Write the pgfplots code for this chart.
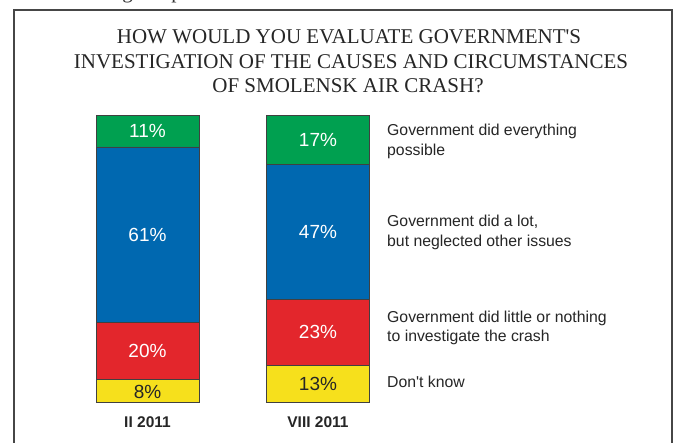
\documentclass[border=0pt]{standalone}
\usepackage{pgfplots}
\pgfplotsset{compat=1.18}
\usepackage{fontspec}
\setmainfont{Liberation Serif}
\newfontfamily\arial{Liberation Sans}
\definecolor{cgreen}{RGB}{0,160,80}
\definecolor{cblue}{RGB}{0,104,176}
\definecolor{cred}{RGB}{227,38,44}
\definecolor{cyellow}{RGB}{246,224,28}
\definecolor{cframe}{RGB}{70,70,70}
\tikzset{pct/.style={inner sep=0pt, font=\arial\fontsize{19bp}{19bp}\selectfont, text=white}}
\begin{document}
\begin{tikzpicture}
\useasboundingbox (0,0) rectangle (677bp,443bp);
\clip (0,0) rectangle (677bp,443bp);
\fill[white] (0,0) rectangle (677bp,443bp);
\draw[cframe, line width=2bp] (14bp,-20bp) -- (14bp,433bp) -- (672bp,433bp) -- (672bp,-20bp);
% cropped line above the frame
\node[anchor=base, inner sep=0pt, font=\fontsize{21bp}{21bp}\selectfont, text=black!80] at (127.5bp,444bp) {g};
\node[anchor=base, inner sep=0pt, font=\fontsize{21bp}{21bp}\selectfont, text=black!80] at (176.5bp,444bp) {p};
% title
\begin{scope}[every node/.style={anchor=base, inner sep=0pt, font=\fontsize{21bp}{24.5bp}\selectfont, text=black!85}]
\node at (349bp,399bp) {HOW WOULD YOU EVALUATE GOVERNMENT\textquotesingle S};
\node at (351bp,374.5bp) {INVESTIGATION OF THE CAUSES AND CIRCUMSTANCES};
\node at (348bp,350bp) {OF SMOLENSK AIR CRASH?};
\end{scope}
\begin{axis}[
  at={(62.25bp,40.3bp)}, anchor=south west,
  scale only axis, width=341bp, height=287.4bp,
  xmin=-0.5, xmax=1.5, ymin=0, ymax=100,
  hide axis, clip=false,
  ybar stacked, bar width=103bp,
]
\addplot[fill=cyellow, draw=black!75, line width=0.8bp] coordinates {(0,8) (1,13)};
\addplot[fill=cred, draw=black!75, line width=0.8bp] coordinates {(0,20) (1,23)};
\addplot[fill=cblue, draw=black!75, line width=0.8bp] coordinates {(0,61) (1,47)};
\addplot[fill=cgreen, draw=black!75, line width=0.8bp] coordinates {(0,11) (1,17)};
\end{axis}
% segment labels (centres of the segments: 40.3bp + value * 2.874bp)
\node[pct, text=black!85] at (147.5bp,51.2bp) {8\%};
\node[pct] at (147.5bp,92.0bp) {20\%};
\node[pct] at (147.5bp,208.4bp) {61\%};
\node[pct] at (147.5bp,311.9bp) {11\%};
\node[pct, text=black!85] at (318bp,59.0bp) {13\%};
\node[pct] at (318bp,110.7bp) {23\%};
\node[pct] at (318bp,211.3bp) {47\%};
\node[pct] at (318bp,303.3bp) {17\%};
% category labels
\begin{scope}[every node/.style={anchor=base, inner sep=0pt, font=\arial\bfseries\fontsize{15.5bp}{15.5bp}\selectfont, text=black!85}]
\node at (147.5bp,16bp) {II 2011};
\node at (318bp,16bp) {VIII 2011};
\end{scope}
% legend texts
\begin{scope}[every node/.style={anchor=base west, inner sep=0pt, font=\arial\fontsize{15.8bp}{15.8bp}\selectfont, text=black!85}]
\node at (387bp,307bp) {Government did everything};
\node at (387bp,287bp) {possible};
\node at (387bp,216bp) {Government did a lot,};
\node at (387bp,196bp) {but neglected other issues};
\node at (387bp,120bp) {Government did little or nothing};
\node at (387bp,101bp) {to investigate the crash};
\node at (387bp,55bp) {Don\textquotesingle t know};
\end{scope}
\end{tikzpicture}
\end{document}
